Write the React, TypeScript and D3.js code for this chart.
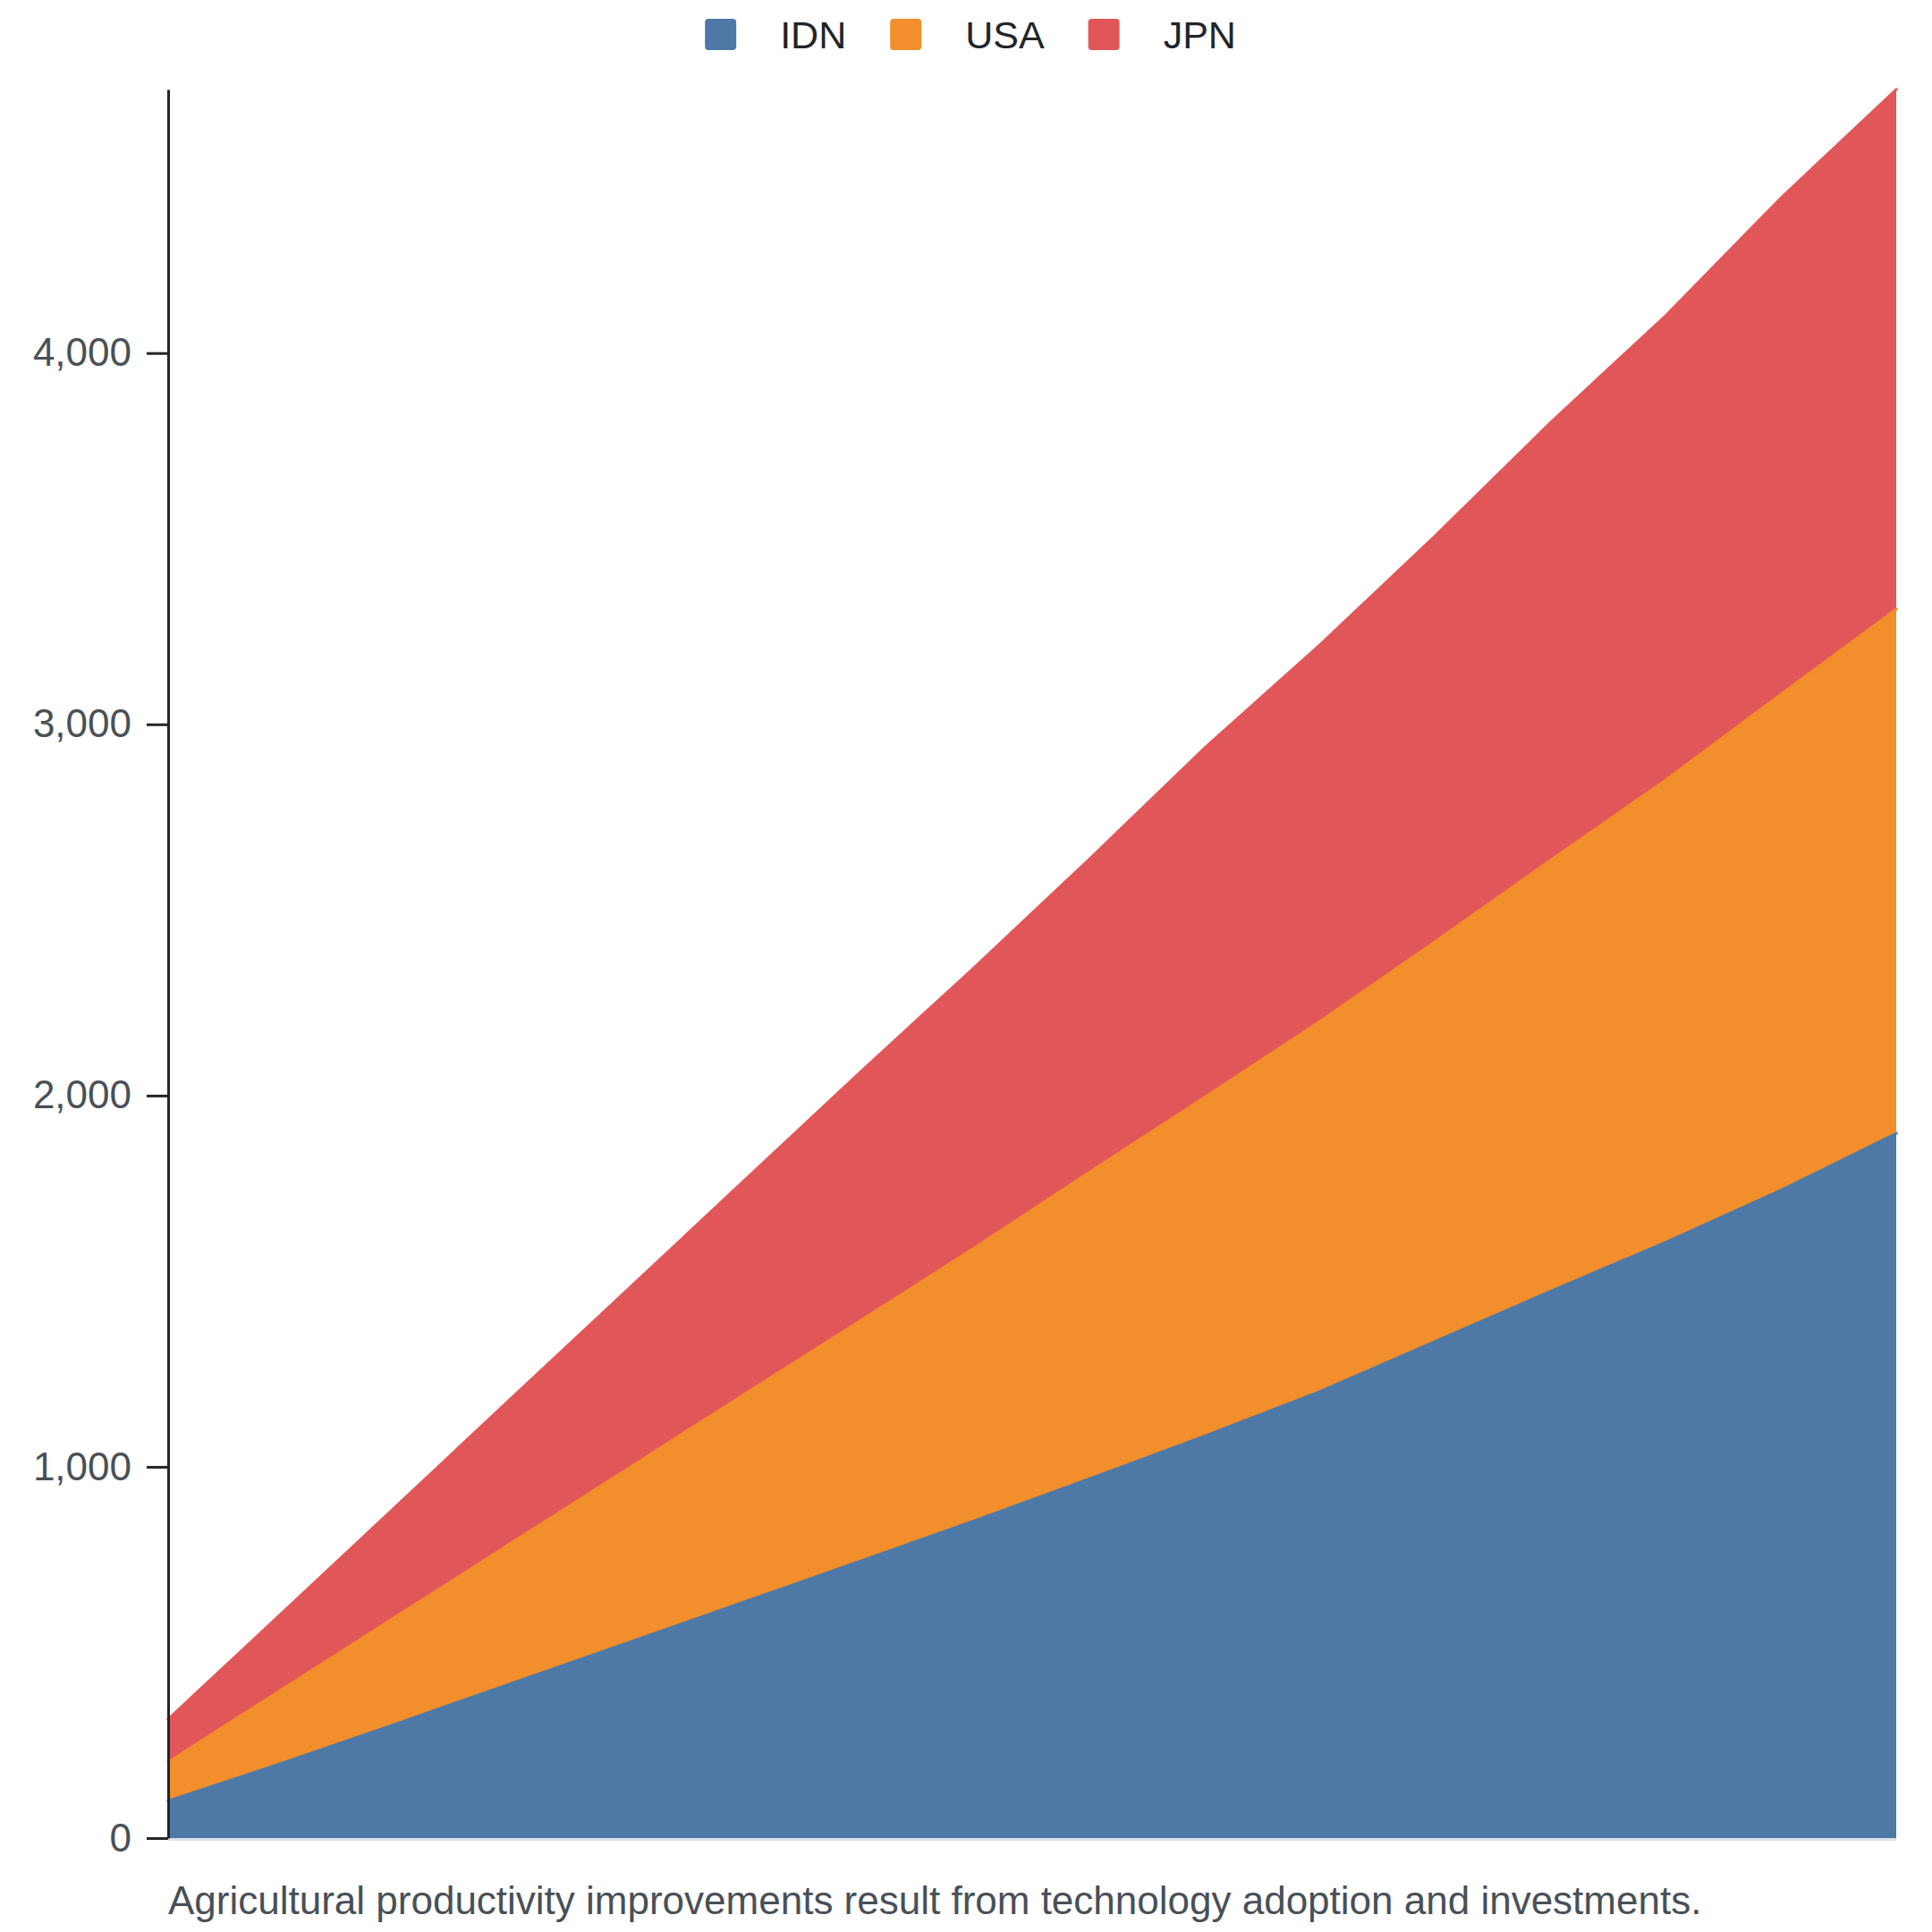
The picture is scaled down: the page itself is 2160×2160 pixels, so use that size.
import * as d3 from "d3";
import { useEffect, useRef } from "react";

// years along the x axis (not labelled in the chart)
const years = [2008, 2009, 2010, 2011, 2012, 2013, 2014, 2015, 2016, 2017, 2018, 2019, 2020, 2021, 2022, 2023];

// stacked series, bottom to top
const idn = [100, 203, 310, 419, 527, 636, 745, 855, 968, 1083, 1203, 1338, 1473, 1605, 1745, 1898];
const usa = [105, 200, 291, 380, 470, 559, 647, 735, 826, 913, 997, 1077, 1161, 1245, 1336, 1412];
const jpn = [115, 207, 299, 392, 484, 576, 669, 756, 844, 941, 1015, 1093, 1179, 1251, 1337, 1400];

const seriesKeys = ["IDN", "USA", "JPN"];
const seriesColors = ["#4e79a7", "#f28e2b", "#e15759"];
const yTicks = [0, 1000, 2000, 3000, 4000];
const subtitle = "Agricultural productivity improvements result from technology adoption and investments.";

const W = 2160;
const H = 2160;
const FONT = "'Liberation Sans', Arial, Helvetica, sans-serif";

type Row = { year: number; IDN: number; USA: number; JPN: number };

const App = () => {
    const svgRef = useRef<SVGSVGElement | null>(null);

    useEffect(() => {
        const svg = d3.select(svgRef.current);
        svg.selectAll("*").remove();

        const margin = { top: 100, right: 40, bottom: 105, left: 188 };
        const innerW = W - margin.left - margin.right;
        const innerH = H - margin.top - margin.bottom;

        const rows: Row[] = years.map((year, i) => ({ year, IDN: idn[i], USA: usa[i], JPN: jpn[i] }));

        const stack = d3.stack<Row>().keys(seriesKeys);
        const layers = stack(rows);
        const maxTotal = d3.max(layers[layers.length - 1], (d) => d[1]) as number;

        const x = d3.scalePoint<number>().domain(years).range([0, innerW]);
        const y = d3.scaleLinear().domain([0, maxTotal]).range([innerH, 0]);

        const color = d3.scaleOrdinal<string>().domain(seriesKeys).range(seriesColors);

        const g = svg.append("g").attr("transform", `translate(${margin.left},${margin.top})`);

        // light baseline under the areas
        g.append("line")
            .attr("x1", 0)
            .attr("x2", innerW)
            .attr("y1", innerH + 1.5)
            .attr("y2", innerH + 1.5)
            .attr("stroke", "#dee2e6")
            .attr("stroke-width", 3);

        const area = d3
            .area<d3.SeriesPoint<Row>>()
            .x((d) => x(d.data.year) as number)
            .y0((d) => y(d[0]))
            .y1((d) => y(d[1]));

        const line = d3
            .line<d3.SeriesPoint<Row>>()
            .x((d) => x(d.data.year) as number)
            .y((d) => y(d[1]));

        g.selectAll("path.layer")
            .data(layers)
            .join("path")
            .attr("class", "layer")
            .attr("d", area)
            .attr("fill", (d) => color(d.key));

        g.selectAll("path.edge")
            .data(layers)
            .join("path")
            .attr("class", "edge")
            .attr("d", line)
            .attr("fill", "none")
            .attr("stroke", (d) => color(d.key))
            .attr("stroke-width", 3)
            .attr("stroke-linecap", "square");

        // y axis
        const yAxis = g
            .append("g")
            .call(
                d3
                    .axisLeft(y)
                    .tickValues(yTicks)
                    .tickSize(24)
                    .tickSizeOuter(0)
                    .tickPadding(17)
                    .tickFormat(d3.format(","))
            );
        yAxis.select(".domain").attr("stroke", "#212529").attr("stroke-width", 3);
        yAxis.selectAll(".tick line").attr("stroke", "#212529").attr("stroke-width", 3);
        yAxis
            .selectAll(".tick text")
            .attr("fill", "#495057")
            .attr("font-family", FONT)
            .attr("font-size", 44);

        // subtitle
        svg.append("text")
            .attr("x", margin.left)
            .attr("y", 2140)
            .attr("fill", "#495057")
            .attr("font-family", FONT)
            .attr("font-size", 44)
            .text(subtitle);

        // legend
        const legend = svg.append("g");
        let cursor = 0;
        seriesKeys.forEach((key, i) => {
            const item = legend.append("g").attr("transform", `translate(${cursor},0)`);
            item.append("rect")
                .attr("x", 0)
                .attr("y", 21)
                .attr("width", 35)
                .attr("height", 35)
                .attr("rx", 4)
                .attr("fill", color(key));
            const t = item
                .append("text")
                .attr("x", 84)
                .attr("y", 54)
                .attr("fill", "#212529")
                .attr("font-family", FONT)
                .attr("font-size", 43)
                .text(key);
            const tw = (t.node() as SVGTextElement).getComputedTextLength();
            cursor += 84 + tw + (i < seriesKeys.length - 1 ? 49 : 0);
        });
        legend.attr("transform", `translate(${1085 - cursor / 2},0)`);
    }, []);

    return (
        <svg
            ref={svgRef}
            width={W}
            height={H}
            viewBox={`0 0 ${W} ${H}`}
            style={{ position: "absolute", left: 0, top: 0, background: "#fff", display: "block" }}
        ></svg>
    );
};

export default App;
